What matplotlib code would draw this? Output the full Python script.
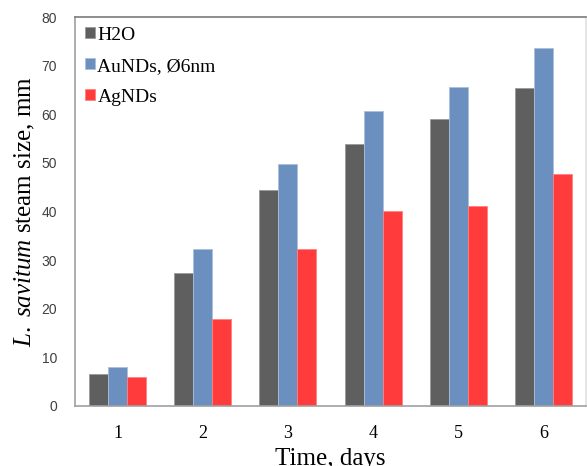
import numpy as np
import matplotlib as mpl
mpl.use('Agg')
import matplotlib.pyplot as plt

mpl.rcParams['font.family'] = ['Liberation Serif', 'DejaVu Serif']
mpl.rcParams['mathtext.fontset'] = 'custom'
mpl.rcParams['mathtext.rm'] = 'Liberation Serif'
mpl.rcParams['mathtext.it'] = 'Liberation Serif:italic'

days = ['1', '2', '3', '4', '5', '6']
h2o = [6.6, 27.3, 44.4, 53.8, 59.1, 65.3]
aunds = [8.0, 32.2, 49.8, 60.6, 65.7, 73.7]
agnds = [6.0, 17.8, 32.2, 40.0, 41.2, 47.8]

fig = plt.figure(figsize=(5.87, 4.66), dpi=100)
ax = fig.add_axes([0.128, 0.1288, 0.870, 0.8347])

x = np.arange(len(days))
w = 0.223
ax.bar(x - w, h2o, w, color='#5f5f5f', edgecolor='#9a9a9a', linewidth=0.6, label='H2O')
ax.bar(x, aunds, w, color='#6b8fbe', edgecolor='#a9bfdc', linewidth=0.6, label='AuNDs, Ø6nm')
ax.bar(x + w, agnds, w, color='#ff3b3b', edgecolor='#ff8080', linewidth=0.6, label='AgNDs')

ax.set_xlim(-0.5, len(days) - 0.5)
ax.set_ylim(0, 80)
ax.set_yticks(range(0, 81, 10))
ax.set_xticks(x)
ax.set_xticklabels(days)
ax.tick_params(axis='y', length=0, labelsize=10, pad=13, labelcolor='#404040')
for lbl in ax.get_yticklabels():
    lbl.set_family('Liberation Sans')
ax.tick_params(axis='x', length=0, labelsize=13, pad=14)

ax.spines['left'].set_color('#a0a0a0')
ax.spines['bottom'].set_color('#a0a0a0')
ax.spines['top'].set_color('#7a7a7a')
ax.spines['right'].set_color('#e0e0e0')
for s in ax.spines.values():
    s.set_linewidth(1.2)

ax.set_xlabel('Time, days', fontsize=18, labelpad=4)
ax.set_ylabel(r'$\mathit{L.\ savitum}$ steam size, mm', fontsize=18, labelpad=3)

ax.legend(loc='upper left', frameon=False, fontsize=14, handlelength=0.5,
          handleheight=0.5, handletextpad=0.15, labelspacing=0.72,
          borderaxespad=0.1, borderpad=0.4)

fig.savefig('out.png', dpi=100)
